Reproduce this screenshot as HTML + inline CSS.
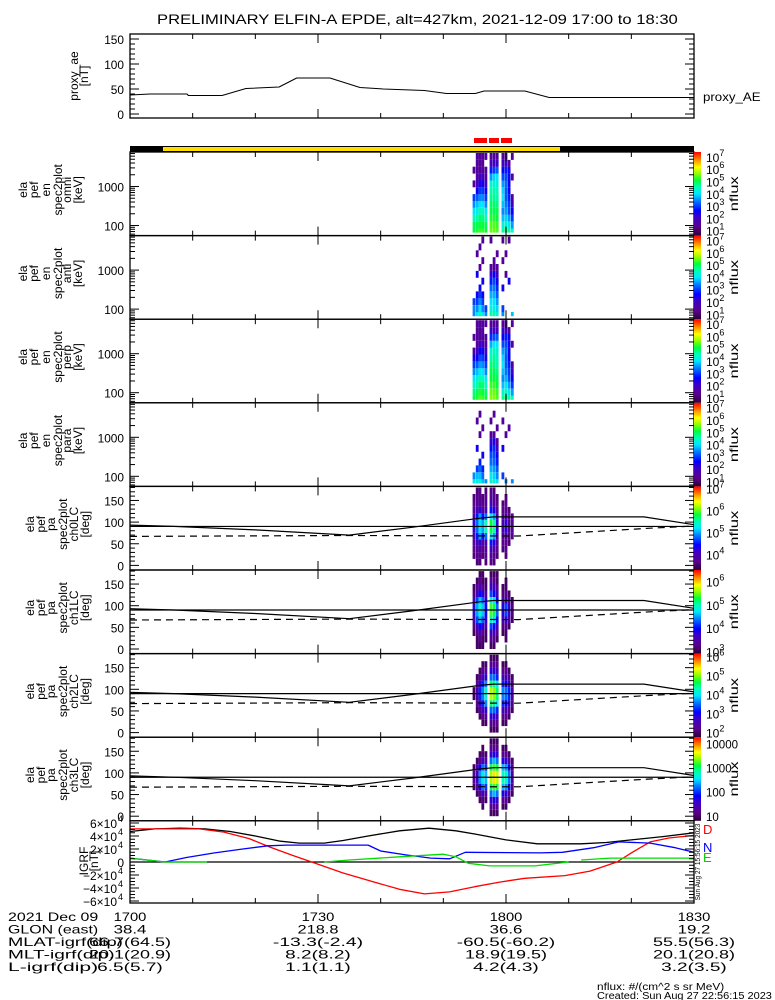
<!DOCTYPE html>
<html><head><meta charset="utf-8"><style>
html,body{margin:0;padding:0;background:#fff;}
svg{display:block;font-family:"Liberation Sans",sans-serif;}
</style></head><body>
<svg id="c" width="775" height="1000" viewBox="0 0 775 1000" xmlns="http://www.w3.org/2000/svg">
<defs>
<linearGradient id="cbg" x1="0" y1="1" x2="0" y2="0">
<stop offset="0" stop-color="rgb(40,0,50)"/><stop offset="0.1" stop-color="rgb(90,0,140)"/><stop offset="0.22" stop-color="rgb(60,0,200)"/><stop offset="0.3" stop-color="rgb(0,0,255)"/><stop offset="0.42" stop-color="rgb(0,130,255)"/><stop offset="0.5" stop-color="rgb(0,230,255)"/><stop offset="0.58" stop-color="rgb(0,255,180)"/><stop offset="0.66" stop-color="rgb(0,255,60)"/><stop offset="0.74" stop-color="rgb(140,255,0)"/><stop offset="0.82" stop-color="rgb(255,255,0)"/><stop offset="0.9" stop-color="rgb(255,150,0)"/><stop offset="1" stop-color="rgb(255,0,0)"/>
</linearGradient>
</defs>
</svg>
<script>
// ---------- data ----------
const aeTimes = [0,3.2,9.1,9.3,14.7,18.5,23.8,26.6,31.9,36.7,40.4,47,50.5,55.1,56.5,63,66.9,90];
const aeValues = [38,40,40,37,37,51,54,72,72,53,50,47,41,41,46,46,33,33];

const specTimes = [54.9,55.4,55.85,56.3,56.8,57.6,58.1,58.6,59.5,60.0,60.5,61.0];
const energies = [69,103,155,232,348,521,781,1170,1753,2627,3937,5900];
const pitchAngles = [7.5,22.5,37.5,52.5,67.5,82.5,97.5,112.5,127.5,142.5,157.5,172.5];

const omniFlux = [
[5,5,4.5,4,3.5,3,0,1.5,0,1.5,0,0],
[5.2,5,4.6,4.2,3.8,3.2,2.5,2,1.5,1.5,1.5,1.5],
[5.3,5.1,4.9,4.5,4,3.5,3,2.5,2,1.5,1.5,1.5],
[5.3,5.1,4.8,4.5,4,3.5,3,2.5,2,1.5,1.5,1.5],
[5.1,5,4.5,4,3.5,3,2.5,2,1.5,1.5,0,1.5],
[5.5,5.4,5.2,5,4.9,4.7,4.5,4.3,3.6,2.8,2,1.5],
[5.5,5.4,5.2,5,4.9,4.7,4.6,4.4,3.9,3,2,1.5],
[5.4,5.3,5.1,5,4.8,4.6,4.5,4.3,4,3.2,2,1.5],
[4.6,4.3,3.8,3.5,3.8,4.1,3.9,3.6,3.1,2.6,2,1.5],
[4.9,4.4,3.9,3.6,3.4,3.2,3.2,3.3,3.1,2.8,2,1.5],
[4.6,4.1,3.6,3.1,3,2.8,2.6,2.5,2.5,2.5,1.5,0],
[4.5,3.6,3,2.5,2,1.5,0,0,1.5,0,0,1.5]];
const antiFlux = [
[3.5,3.5,3,0,0,0,0,0,0,0,0,0],
[4,3.5,3,2.5,0,0,2.5,0,0,1.5,0,0],
[4.5,4,3.5,3,2.5,0,0,1.5,0,0,1.5,0],
[4,3.5,3,2.5,0,2.5,0,0,1.5,0,0,1.5],
[3.5,3,0,0,0,0,0,0,0,0,0,0],
[4.6,4.3,4,3.7,3.3,2.8,2.2,1.5,0,0,0,1.5],
[4.6,4.2,4,3.7,3.4,3.1,2.6,1.5,1.5,0,0,0],
[4.3,3.9,3.6,3.2,2.9,2.5,2,1.5,0,1.5,0,0],
[3.5,3,0,0,2.5,0,0,0,1.5,0,0,1.5],
[0,0,0,0,0,0,1.5,0,0,1.5,0,0],
[0,0,0,0,0,2.5,0,0,0,0,0,1.5],
[3.8,0,0,0,0,0,0,0,0,0,0,0]];
const perpFlux = [
[5,4.8,4.5,4,3.5,3,2.5,1.5,0,1.5,0,0],
[5.2,5,4.6,4.2,3.8,3.2,2.5,2,1.5,1.5,1.5,1.5],
[5.4,5.2,4.9,4.6,4.1,3.6,3.1,2.6,2,1.5,1.5,1.5],
[5.3,5.1,4.8,4.5,4,3.5,3,2.5,2,1.5,1.5,1.5],
[5.1,4.9,4.5,4,3.5,3,2.5,2,1.5,1.5,0,1.5],
[5.6,5.5,5.3,5.1,5,4.8,4.6,4.3,3.7,2.9,2,1.5],
[5.6,5.5,5.3,5.1,5,4.8,4.7,4.5,4,3.1,2,1.5],
[5.4,5.3,5.1,5,4.8,4.6,4.5,4.3,4,3.2,2,1.5],
[4.7,4.4,3.8,3.5,3.8,4.1,3.9,3.6,3.1,2.6,2,1.5],
[4.9,4.5,4,3.7,3.4,3.2,3.2,3.3,3.1,2.8,2,1.5],
[4.6,4.1,3.6,3.1,3,2.8,2.6,2.5,2.5,2.5,1.5,0],
[4.5,3.6,3,2.5,2,1.5,0,0,1.5,0,0,1.5]];
const paraFlux = [
[4,3.5,0,0,0,0,0,0,0,0,0,0],
[4.2,3.8,3,0,0,2.5,0,0,0,1.5,0,0],
[4.3,3.8,3.3,2.8,0,0,0,1.5,0,0,1.5,0],
[3.8,3.3,2.8,0,2.5,0,0,0,1.5,0,0,0],
[3.5,0,0,0,0,0,0,0,0,0,0,0],
[4.4,4.1,3.7,3.3,3.1,2.7,2.2,1.5,0,1.5,0,0],
[4.3,3.9,3.6,3.3,3.1,2.9,2.4,1.5,0,0,1.5,0],
[4,3.5,3.2,2.8,2.5,2,1.5,0,1.5,0,0,0],
[0,3,0,0,0,2.5,0,0,0,1.5,0,0],
[3.5,0,0,0,0,0,0,1.5,0,0,0,0],
[0,0,0,0,0,0,0,0,1.5,0,0,0],
[3.5,0,0,0,0,0,0,0,0,0,0,0]];

const pa0Flux = [
[0,3.6,3.7,3.8,3.9,4.2,4.2,3.9,3.8,3.7,3.6,0],
[3.6,3.7,3.8,4,4.5,4.8,4.8,4.5,4,3.8,3.7,3.6],
[3.6,3.7,3.8,4.2,5,5.2,5.2,5,4.2,3.8,3.7,3.7],
[0,3.6,3.7,3.8,4.5,5,5,4.5,3.8,3.7,3.6,0],
[3.6,3.7,3.8,4,4.8,5.5,5.5,4.8,4,3.8,3.7,3.6],
[3.7,3.8,4,4.5,5.2,5.8,5.8,5.2,4.5,4,3.8,3.7],
[3.6,3.7,3.9,4.3,5,5.5,5.5,5,4.3,3.9,3.7,3.6],
[0,3.6,3.7,3.8,4,4.2,4.2,4,3.8,3.7,3.6,0],
[0,0,3.6,3.7,3.8,4,4,3.8,3.7,3.6,0,0],
[0,3.6,3.7,3.7,3.8,4.2,4.2,3.8,3.7,3.7,3.6,0],
[0,0,0,3.6,3.7,3.8,3.8,3.7,3.6,0,0,0],
[0,0,0,0,3.7,3.8,3.8,3.7,0,0,0,0]];
const pa1Flux = [
[0,0,3.1,3.2,3.5,3.8,3.8,3.5,3.2,3.1,0,0],
[3.1,3.1,3.3,3.6,4.2,4.5,4.5,4.2,3.6,3.3,3.1,0],
[3.1,3.3,3.5,4,4.6,4.9,4.9,4.6,4,3.5,3.3,3.1],
[3.1,3.1,3.3,3.8,4.3,4.6,4.6,4.3,3.8,3.3,3.1,3.1],
[0,3.1,3.1,3.4,3.8,4,4,3.8,3.4,3.1,3.1,0],
[3.1,3.3,3.7,4.2,4.9,5.4,5.4,4.9,4.2,3.7,3.3,3.1],
[3.1,3.3,3.6,4,4.7,5.2,5.2,4.7,4,3.6,3.3,3.1],
[0,3.1,3.3,3.6,4,4.3,4.3,4,3.6,3.3,3.1,3.1],
[0,0,3.1,3.2,3.5,3.8,3.8,3.5,3.2,3.1,0,0],
[0,3.1,3.1,3.3,3.7,4.2,4.2,3.7,3.3,3.1,3.1,0],
[0,0,0,3.1,3.4,3.7,3.7,3.4,3.1,0,0,0],
[0,0,0,0,3.1,3.2,3.2,3.1,0,0,0,0]];
const pa2Flux = [
[0,0,0,0,0,2,2,0,0,0,0,0],
[0,0,0,2,2.2,2.5,2.5,2.2,2,0,0,0],
[0,0,2,2.3,2.8,3.2,3.2,2.8,2.3,2,0,0],
[0,2,2.2,2.6,3.2,3.6,3.6,3.2,2.6,2.2,2,0],
[0,2,2.3,2.8,3.6,4.2,4.2,3.6,2.8,2.3,2,0],
[2,2.3,2.8,3.5,4.5,5.1,5.1,4.5,3.5,2.8,2.3,2],
[2,2.3,2.8,3.5,4.4,5,5,4.4,3.5,2.8,2.3,2],
[2,2.2,2.6,3.2,4,4.5,4.5,4,3.2,2.6,2.2,2],
[0,2,2.2,2.6,3.2,3.6,3.6,3.2,2.6,2.2,2,0],
[0,2,2.2,2.5,3,3.5,3.5,3,2.5,2.2,2,0],
[0,0,2,2.3,2.8,3.2,3.2,2.8,2.3,2,0,0],
[0,0,0,2,2.1,2.4,2.4,2.1,2,0,0,0]];
const pa3Flux = [
[0,0,0,0,1,1.2,1.2,1,0,0,0,0],
[0,0,0,1,1.3,1.5,1.5,1.3,1,0,0,0],
[0,0,1,1.2,1.8,2.3,2.3,1.8,1.2,1,0,0],
[0,1,1.1,1.5,2.2,2.6,2.6,2.2,1.5,1.1,1,0],
[0,0,1,1.3,2,2.4,2.4,2,1.3,1,0,0],
[1,1.2,1.6,2.2,3,3.4,3.4,3,2.2,1.6,1.2,1],
[1,1.2,1.7,2.4,3.2,3.7,3.7,3.2,2.4,1.7,1.2,1],
[1,1.2,1.6,2.2,3.1,3.5,3.5,3.1,2.2,1.6,1.2,1],
[0,1,1.2,1.7,2.4,2.8,2.8,2.4,1.7,1.2,1,0],
[0,1,1.2,1.6,2.3,2.7,2.7,2.3,1.6,1.2,1,0],
[0,0,1,1.3,1.8,2.2,2.2,1.8,1.3,1,0,0],
[0,0,0,1,1.1,1.3,1.3,1.1,1,0,0,0]];

const lcTimes = [0,7,20,35,45,55.8,58,82,90];
const lcValues = [93,90,82,70,88,109,112,112,94];
const alcTimes = [0,35,62,83,90];
const alcValues = [67,69,68,86,91];

const totTimes = [0,4,8,12,16,20,24,27,31,34,38,43,47.7,52,55,60,65,72,76,80,85,90];
const totValues = [47000,51000,52000,51000,47000,40000,32000,29000,29000,33000,40000,48000,52000,48000,43000,34000,28000,28000,30000,34000,39000,45000];
const dTimes = [0,11,15,19,22.3,26,29,34,39,43,47,51,55,59,63,69.4,73.4,77.7,80,83,86,90];
const dValues = [51000,51000,46000,36000,23000,10000,0,-17000,-31000,-42000,-49000,-46000,-38000,-31000,-25000,-21000,-14000,0,14000,31000,37000,41000];
const nTimes = [0,5.6,9,13.5,18,22,25,38,40,44,48,51,53.5,65.4,69,74,78,83,87,90];
const nValues = [6000,0,7000,14000,20000,25000,26000,26000,17000,11000,6000,5000,15000,14000,15000,22000,31000,29000,22000,15000];
const eTimesA = [0,5.6,12.3];
const eValuesA = [6000,0,0];
const eTimesB = [31,35,43,50,52,54,57.4,64.6,70];
const eValuesB = [0,3000,8000,12000,8000,-2000,-6000,-6000,0];
const eTimesC = [72,76.6,90];
const eValuesC = [3000,6000,6000];

const xTickLabels = ["1700","1730","1800","1830"];
const glonValues = ["38.4","218.8","36.6","19.2"];
const mlatValues = ["66.7(64.5)","-13.3(-2.4)","-60.5(-60.2)","55.5(56.3)"];
const mltValues = ["20.1(20.9)","8.2(8.2)","18.9(19.5)","20.1(20.8)"];
const lValues = ["6.5(5.7)","1.1(1.1)","4.2(4.3)","3.2(3.5)"];

// ---------- helpers ----------
const svg = document.getElementById('c');
const NS = 'http://www.w3.org/2000/svg';
function el(tag, attrs, parent){const e=document.createElementNS(NS,tag);for(const k in attrs)e.setAttribute(k,attrs[k]);(parent||svg).appendChild(e);return e;}
const X0=130, X1=694;
function xs(t){return X0 + t*(X1-X0)/90;}
const stops=[[0,40,0,50],[0.1,90,0,140],[0.22,60,0,200],[0.3,0,0,255],[0.42,0,130,255],[0.5,0,230,255],[0.58,0,255,180],[0.66,0,255,60],[0.74,140,255,0],[0.82,255,255,0],[0.9,255,150,0],[1,255,0,0]];
function cmap(f){f=Math.max(0,Math.min(1,f));for(let i=1;i<stops.length;i++){if(f<=stops[i][0]){const a=stops[i-1],b=stops[i];const u=(f-a[0])/(b[0]-a[0]);return 'rgb('+[1,2,3].map(k=>Math.round(a[k]+u*(b[k]-a[k]))).join(',')+')';}}return 'rgb(255,0,0)';}
function txt(x,y,s,o){o=o||{};const t=el('text',{x:x,y:y,'font-size':o.fs||12,'text-anchor':o.anchor||'start',fill:o.fill||'#000'},o.parent);
 if(o.cw){t.setAttribute('textLength',s.length*o.cw);t.setAttribute('lengthAdjust','spacingAndGlyphs');}
 if(o.rot)t.setAttribute('transform','rotate(-90 '+x+' '+y+')');
 t.textContent=s;return t;}
function line(x1,y1,x2,y2,o){o=o||{};return el('line',{x1:x1,y1:y1,x2:x2,y2:y2,stroke:o.stroke||'#000','stroke-width':o.w||1,'stroke-dasharray':o.dash||'none'},o.parent);}
function poly(ts,vs,yf,o){const pts=ts.map((t,i)=>xs(t).toFixed(1)+','+yf(vs[i]).toFixed(1)).join(' ');return el('polyline',{points:pts,fill:'none',stroke:o.stroke||'#000','stroke-width':o.w||1,'stroke-dasharray':o.dash||'none','stroke-linejoin':'round'},o.parent);}
function frame(top,bot,g){
 el('rect',{x:X0,y:top,width:X1-X0,height:bot-top,fill:'none',stroke:'#000','stroke-width':1.3},g);
 for(let m=0;m<=90;m+=10){const major=(m%30===0);const L=major?9:5;line(xs(m),bot,xs(m),bot-L,{parent:g});line(xs(m),top,xs(m),top+L,{parent:g});}
}
function yTick(y,major,g){const L=major?9:5;line(X0,y,X0+L,y,{parent:g});line(X1,y,X1-L,y,{parent:g});}
function superLabel(x,y,base,exp,g,fs){const t=el('text',{x:x,y:y,'font-size':fs||12,fill:'#000'},g);t.textContent=base;const sp=el('tspan',{dy:-6,'font-size':(fs||12)*0.75},t);sp.textContent=exp;return t;}

// ---------- title ----------
const title=txt(157,24,'PRELIMINARY ELFIN-A EPDE, alt=427km, 2021-12-09 17:00 to 18:30',{fs:14,cw:8.4});



// ---------- AE panel ----------
const gAE=el('g',{});


const aeY=v=>114 - v*0.5;
frame(34,118,gAE);
for(let v=0;v<=160;v+=10){yTick(aeY(v),v%50===0,gAE);}
[0,50,100,150].forEach(v=>txt(124,aeY(v)+5,String(v),{fs:12,anchor:'end',parent:gAE,cw:6.6}));
const aeLine=poly(aeTimes,aeValues,aeY,{parent:gAE});


txt(78,76,'proxy_ae',{fs:12,anchor:'middle',rot:true,parent:gAE});
txt(88,76,'[nT]',{fs:12,anchor:'middle',rot:true,parent:gAE});
txt(703,101,'proxy_AE',{fs:12,parent:gAE,cw:7.2});

// ---------- orbit bar ----------
const gOrb=el('g',{});


el('rect',{x:130,y:146,width:564,height:6,fill:'#000'},gOrb);
el('rect',{x:163,y:147,width:397,height:4,fill:'#ffdd00'},gOrb);
[[474,487],[489,499],[501,512]].forEach(r=>el('rect',{x:r[0],y:138,width:r[1]-r[0],height:5,fill:'#ff0000'},gOrb));

// ---------- spectrogram panels ----------
const H=83.6;
const energyPanels=[
 {name:'omni',data:omniFlux,top:152},
 {name:'anti',data:antiFlux,top:152+H},
 {name:'perp',data:perpFlux,top:152+2*H},
 {name:'para',data:paraFlux,top:152+3*H}];
const eMin=0.6,eMax=7.4;
function colorbar(top,bot,mn,mx,labels,g,linear){
 el('rect',{x:694,y:top,width:7,height:bot-top,fill:'url(#cbg)'},g);
 labels.forEach(l=>{const y=bot-(l-mn)/(mx-mn)*(bot-top)+5;
  if(linear){txt(706,y,String(Math.round(Math.pow(10,l))),{fs:12,parent:g,cw:6.4});}
  else superLabel(706,y,'10',String(l),g,12);});
 txt(738,(top+bot)/2,'nflux',{fs:12,anchor:'middle',rot:true,parent:g,cw:7});
}
energyPanels.forEach((p,pi)=>{
 const g=el('g',{});
 
 
 const top=p.top,bot=top+H;
 const yE=E=>top+73.5-(Math.log10(E)-2)*39;
 const half=0.088;
 p.data.forEach((col,ci)=>{col.forEach((v,ei)=>{if(!v)return;
  const lg=Math.log10(energies[ei]);
  let y1=top+73.5-(lg+half-2)*39, y2=top+73.5-(lg-half-2)*39;
  y1=Math.max(y1,top+1);y2=Math.min(y2,bot-3);if(y2<=y1)return;
  const c=el('rect',{x:(xs(specTimes[ci])-1.4).toFixed(1),y:y1.toFixed(1),width:2.8,height:(y2-y1).toFixed(1),fill:cmap((v-eMin)/(eMax-eMin))},g);
  
  
 });});
 frame(top,bot,g);
 for(let d=1;d<=3;d++){for(let k=1;k<=9;k++){const E=k*Math.pow(10,d);const y=yE(E);if(y>top&&y<bot)yTick(y,k===1,g);}}
 txt(124,yE(1000)+5,'1000',{fs:12,anchor:'end',parent:g,cw:6.6});
 txt(124,yE(100)+5,'100',{fs:12,anchor:'end',parent:g,cw:6.6});
 const cy=top+H/2-4;
 ['ela','pef','en','spec2plot',p.name,'[keV]'].forEach((s,i)=>txt([27,38,50,62,71,82][i],cy,s,{fs:12,anchor:'middle',rot:true,parent:g}));
 colorbar(top,bot,eMin,eMax,[7,6,5,4,3,2,1],g,false);
});

const paPanels=[
 {name:'ch0LC',data:pa0Flux,mn:3.3,mx:7.1,labels:[7,6,5,4],linear:false},
 {name:'ch1LC',data:pa1Flux,mn:2.9,mx:6.5,labels:[6,5,4,3],linear:false},
 {name:'ch2LC',data:pa2Flux,mn:1.75,mx:6.15,labels:[6,5,4,3,2],linear:false},
 {name:'ch3LC',data:pa3Flux,mn:0.8,mx:4.25,labels:[4,3,2,1],linear:true}];
paPanels.forEach((p,pi)=>{
 const g=el('g',{});
 
 
 const top=152+(4+pi)*H,bot=top+H;
 const yP=a=>top+79-a*0.433;
 p.data.forEach((col,ci)=>{col.forEach((v,ai)=>{if(!v)return;
  let y1=yP(pitchAngles[ai]+7.5),y2=yP(pitchAngles[ai]-7.5);
  y1=Math.max(y1,top+1);y2=Math.min(y2,bot-1);
  const c=el('rect',{x:(xs(specTimes[ci])-1.4).toFixed(1),y:y1.toFixed(1),width:2.8,height:(y2-y1).toFixed(1),fill:cmap((v-p.mn)/(p.mx-p.mn))},g);
  
  
 });});
 line(X0,yP(90),X1,yP(90),{parent:g,w:1.2});
 const lc=poly(lcTimes,lcValues,yP,{parent:g,w:1.2});
 
 
 const alc=poly(alcTimes,alcValues,yP,{parent:g,w:1.2,dash:'7,5'});
 
 
 frame(top,bot,g);
 for(let a=0;a<=180;a+=10){const y=yP(a);if(y>top&&y<bot)yTick(y,a%50===0,g);}
 [0,50,100,150].forEach(a=>txt(124,yP(a)+5,String(a),{fs:12,anchor:'end',parent:g,cw:6.6}));
 const cy=top+H/2-4;
 ['ela','pef','pa','spec2plot',p.name,'[deg]'].forEach((s,i)=>txt([34,45,55,67,78,89][i],cy,s,{fs:12,anchor:'middle',rot:true,parent:g}));
 colorbar(top,bot,p.mn,p.mx,p.labels,g,p.linear);
});

// ---------- IGRF ----------
const gI=el('g',{});


const iTop=152+8*H, iBot=903;
const yI=v=>862 - v*39/60000;
line(X0,yI(0),X1,yI(0),{parent:gI,w:1.2});
const tl=poly(totTimes,totValues,yI,{parent:gI,w:1.3});


const dl=poly(dTimes,dValues,yI,{parent:gI,w:1.3,stroke:'#ff0000'});


const nl=poly(nTimes,nValues,yI,{parent:gI,w:1.3,stroke:'#0000ff'});


[[eTimesA,eValuesA],[eTimesB,eValuesB],[eTimesC,eValuesC]].forEach(s=>{const e=poly(s[0],s[1],yI,{parent:gI,w:1.3,stroke:'#00dd00'});
 
 });
frame(iTop,iBot,gI);
for(let v=-60000;v<=60000;v+=5000){yTick(yI(v),v%20000===0,gI);}
[60000,40000,20000,0,-20000,-40000,-60000].forEach(v=>{const y=yI(v)+5;
 if(v===0){txt(124,y,'0',{fs:12,anchor:'end',parent:gI});return;}
 const s=(v<0?'\u2212':'')+Math.abs(v/10000)+'\u00d710';
 const t=el('text',{x:117,y:y,'font-size':12,'text-anchor':'end',fill:'#000'},gI);t.textContent=s;
 const sp=el('text',{x:118,y:y-6,'font-size':9,fill:'#000'},gI);sp.textContent='4';});
txt(88,861,'IGRF',{fs:12,anchor:'middle',rot:true,parent:gI});
txt(98,861,'[nT]',{fs:12,anchor:'middle',rot:true,parent:gI});
txt(703,834,'D',{fs:13,fill:'#ff0000',parent:gI});
txt(703,852,'N',{fs:13,fill:'#0000ff',parent:gI});
txt(703,862,'E',{fs:13,fill:'#00cc00',parent:gI});
txt(700,862,'Sun Aug 27 15:56:15 2023',{fs:7,anchor:'middle',rot:true,parent:gI,cw:3.2});

// ---------- footer ----------
const gF=el('g',{});


const rows=[['2021 Dec 09',xTickLabels,921],['GLON (east)',glonValues,933.5],['MLAT-igrf(dip)',mlatValues,946],['MLT-igrf(dip)',mltValues,958.5],['L-igrf(dip)',lValues,971]];
const tickX=[0,30,60,90].map(xs);
rows.forEach(r=>{txt(8,r[2],r[0],{fs:12,parent:gF,cw:8.2});
 r[1].forEach((s,i)=>txt(tickX[i],r[2],s,{fs:12,anchor:'middle',parent:gF,cw:8.2}));});
txt(597,990,'nflux: #/(cm^2 s sr MeV)',{fs:10,parent:gF,cw:5.3});
txt(597,999,'Created: Sun Aug 27 22:56:15 2023',{fs:10,parent:gF,cw:5.3});
</script>
</body></html>
